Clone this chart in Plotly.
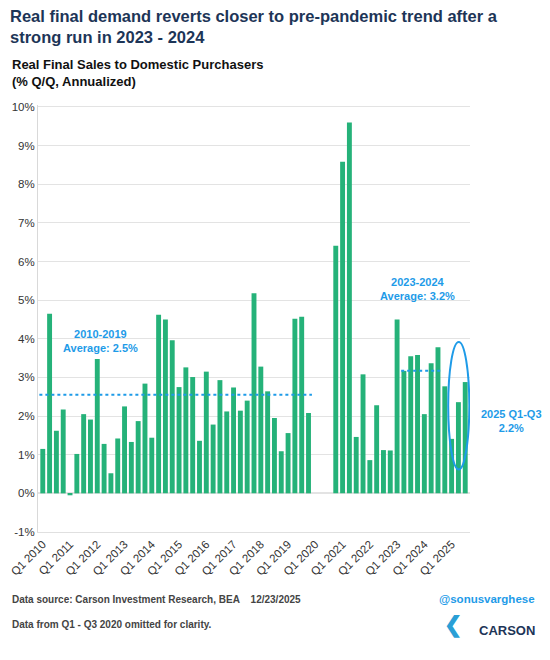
import plotly.graph_objects as go

years = list(range(2010, 2026))
values_2010s = [1.15, 4.65, 1.62, 2.17,
                -0.05, 1.02, 2.05, 1.91,
                3.48, 1.28, 0.52, 1.42,
                2.25, 1.33, 1.87, 2.84,
                1.44, 4.62, 4.50, 3.96,
                2.75, 3.26, 3.01, 1.36,
                3.15, 1.78, 2.93, 2.12,
                2.74, 2.14, 2.40, 5.18,
                3.28, 2.64, 1.95, 1.09,
                1.56, 4.52, 4.57, 2.08]
values_2020s = [6.41,
                8.58, 9.60, 1.46, 3.08,
                0.86, 2.28, 1.12, 1.11,
                4.50, 3.17, 3.55, 3.58,
                2.05, 3.37, 3.78, 2.77,
                1.41, 2.36, 2.88]
avg_2010s = 2.55
avg_2324 = 3.17

labels = [f"Q{q} {y}" for y in years for q in range(1, 5)][:63]
vals = values_2010s + [None, None, None] + values_2020s
xs = list(range(len(vals)))

blue = "#1e9be8"
fig = go.Figure()
fig.add_bar(x=xs, y=vals, marker_color="#25b279", marker_line_width=0, width=0.72)
fig.add_scatter(x=[-0.5, 39.5], y=[avg_2010s]*2, mode="lines",
                line=dict(color=blue, width=2, dash="dot"))
fig.add_scatter(x=[52.6, 58.5], y=[avg_2324]*2, mode="lines",
                line=dict(color=blue, width=2, dash="dot"))
fig.add_shape(type="circle", xref="x", yref="y", x0=59.5, x1=62.6, y0=0.62, y1=3.92,
              line=dict(color=blue, width=2))

fig.add_annotation(x=8.5, y=3.95, text="<b>2010-2019<br>Average: 2.5%</b>", showarrow=False,
                   font=dict(size=11, color=blue, family="Liberation Sans"))
fig.add_annotation(x=55, y=5.3, text="<b>2023-2024<br>Average: 3.2%</b>", showarrow=False,
                   font=dict(size=11, color=blue, family="Liberation Sans"))
fig.add_annotation(x=1.095, xref="paper", xanchor="center", y=1.87, text="<b>2025 Q1-Q3<br>2.2%</b>",
                   showarrow=False, font=dict(size=11, color=blue, family="Liberation Sans"))

fig.update_layout(
    width=542, height=652, showlegend=False, plot_bgcolor="white", paper_bgcolor="white",
    margin=dict(l=30, r=80, t=97, b=128, autoexpand=False),
    font=dict(family="Liberation Sans", color="#333"),
    xaxis=dict(tickmode="array", tickvals=xs[::4], ticktext=labels[::4], tickangle=-45,
               range=[-0.7, 62.7], showgrid=False, tickfont=dict(size=11.5, color="#333"),
               ticks="", zeroline=False, showline=True, linecolor="#e0e0e0", automargin=False),
    yaxis=dict(range=[-1, 10.05], gridcolor="#e3e3e3", automargin=False,
               tickvals=list(range(-1, 11)), ticktext=[f"{v}%" for v in range(-1, 11)],
               zeroline=True, zerolinecolor="#e3e3e3", showline=True, linecolor="#d9d9d9",
               tickfont=dict(size=11.5, color="#333")),
)

fig.add_annotation(xref="paper", yref="paper", x=-0.07, y=1.234, xanchor="left", yanchor="top",
                   align="left", showarrow=False,
                   text="<b>Real final demand reverts closer to pre-pandemic trend after a<br>strong run in 2023 - 2024</b>",
                   font=dict(size=16.5, color="#1d3557"))
fig.add_annotation(xref="paper", yref="paper", x=-0.065, y=1.117, xanchor="left", yanchor="top",
                   align="left", showarrow=False,
                   text="<b>Real Final Sales to Domestic Purchasers<br>(% Q/Q, Annualized)</b>",
                   font=dict(size=13, color="#111"))
fig.add_annotation(xref="paper", yref="paper", x=-0.065, y=-0.176, xanchor="left", showarrow=False,
                   text="<b>Data source: Carson Investment Research, BEA    12/23/2025</b>",
                   font=dict(size=10, color="#444"))
fig.add_annotation(xref="paper", yref="paper", x=1.155, y=-0.176, xanchor="right", showarrow=False,
                   text="<b>@sonusvarghese</b>", font=dict(size=11.5, color=blue))
fig.add_annotation(xref="paper", yref="paper", x=-0.065, y=-0.234, xanchor="left", showarrow=False,
                   text="<b>Data from Q1 - Q3 2020 omitted for clarity.</b>",
                   font=dict(size=10, color="#444"))
fig.add_annotation(xref="paper", yref="paper", x=1.155, y=-0.252, xanchor="right", showarrow=False,
                   text="<b>CARSON</b>", font=dict(size=13, color="#1d3557"))
fig.add_annotation(xref="paper", yref="paper", x=0.985, y=-0.252, xanchor="right", showarrow=False,
                   text="<b>❮</b>", font=dict(size=22, color="#2a9fd6"))

fig.write_html("out.html")
